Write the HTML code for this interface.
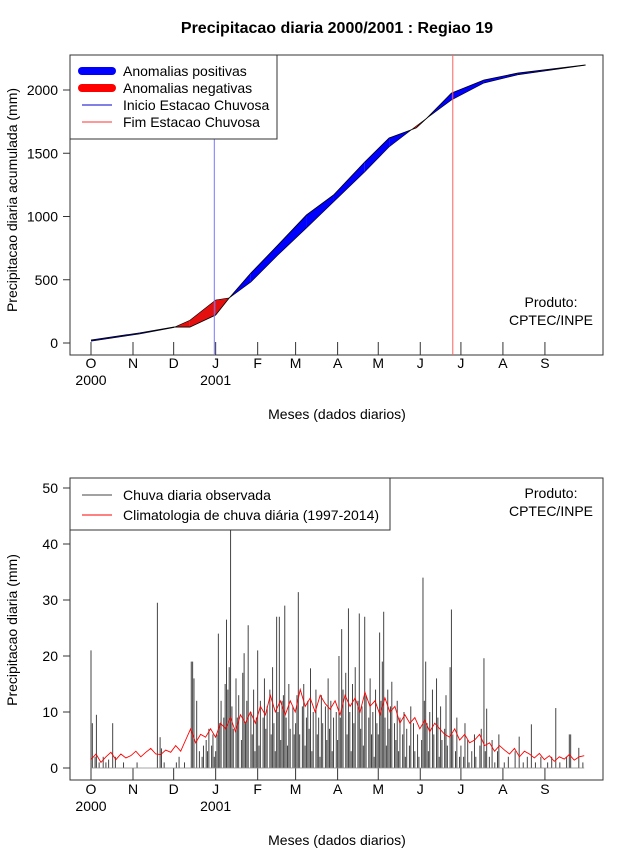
<!DOCTYPE html>
<html><head><meta charset="utf-8"><style>
body{margin:0;background:#fff}
svg{display:block;font-family:"Liberation Sans",sans-serif}
</style></head><body>
<svg id="c" width="640" height="850" viewBox="0 0 640 850">
<text x="337" y="33" text-anchor="middle" font-size="16" font-weight="bold">Precipitacao diaria 2000/2001 : Regiao 19</text>
<rect x="70" y="55" width="533" height="300" fill="none" stroke="#333"/>
<rect x="70" y="478" width="533" height="302" fill="none" stroke="#333"/>
<g id="topg"></g>
<g id="botg"></g>
<text transform="translate(17,200) rotate(-90)" text-anchor="middle" font-size="14">Precipitacao diaria acumulada (mm)</text>
<text transform="translate(17,630) rotate(-90)" text-anchor="middle" font-size="14">Precipitacao diaria (mm)</text>
<text x="337" y="419" text-anchor="middle" font-size="14">Meses (dados diarios)</text>
<text x="337" y="845" text-anchor="middle" font-size="14">Meses (dados diarios)</text>
<text x="551" y="307" text-anchor="middle" font-size="14">Produto:</text>
<text x="551" y="325" text-anchor="middle" font-size="14">CPTEC/INPE</text>
<text x="551" y="498" text-anchor="middle" font-size="14">Produto:</text>
<text x="551" y="516" text-anchor="middle" font-size="14">CPTEC/INPE</text>
</svg>
<script>
// ---- data ----
const monthLabels=["O","N","D","J","F","M","A","M","J","J","A","S"];
const monthStartDays=[0,31,61,92,123,151,182,212,243,273,304,335];
const yearLabels=[["2000",0],["2001",92]];
const topTicks=[0,500,1000,1500,2000];
const botTicks=[0,10,20,30,40,50];
const cumDays=[0,36,61,73,92,102,118,138,159,179,202,220,240,248,266,290,315,365];
const cumObs=[24,80,126,126,221,356,553,775,1012,1170,1431,1621,1700,1779,1976,2079,2134,2198];
const cumClim=[14,72,122,180,340,356,482,696,909,1115,1352,1550,1715,1779,1921,2055,2120,2196];
const startDay=91, endDay=267;
const rainOct=[21,8,0,2,9.5,0,1,0,0,2,0,1,0,1.5,0,0,8,0,2,0,0,0,0,0,1,0,0,0,0,0,0];
const rainNov=[0,0,0,1,0,0,0,0,0,0,0,0,0,0,0,0,0,0,29.5,0,5.5,3.5,0,1,0,0,0,0,0,0];
const rainDec=[0,0,1,0,2,0,0,0,1,0,0,0,0,19,19,16,0,12,0,3,0,2,4,0,5,3,7,0,4,6,2];
const rainJan=[3,6,24,8,12,0,9,15,26.5,14,18,43,11,7,0,16,9,13,0,5,17,20.5,8,12,25.5,0,10,6,14,3,9];
const rainFeb=[21,4,12,0,9,16,7,11,0,14,6,18,8,3,27,10,27,5,12,13,29,9,4,15,7,0,11,6];
const rainMar=[8,13,31.4,6,0,11,15,4,9,12,7,17.8,3,10,0,14,6,9,2,13,8,0,11,5,16,7,12,3,9,0,10];
const rainApr=[5,20,9,24.8,14,0,17,6,28.5,10,3,15,8,18,0,12,27.6,7,11,4,27,13,0,9,16,6,10,2,14,8];
const rainMay=[6,24.2,12,19,27.9,9,4,14,7,11,15.4,0,8,5,12,3,9,0,6,10,2,7,0,4,11,0,8,3,0,6,2];
const rainJun=[0,5,34,12,19,8,3,10,0,14,6,0,16,9,2,11,5,0,7,13,4,0,18,28.3,6,0,3,9,0,2];
const rainJul=[4,0,2,8,0,5,1,0,3,0,6,2,0,0,4,7,0,19.6,3,10.6,0,2,0,5,0,1,0,3,6,0,0];
const rainAug=[0,1,0,0,2,0,0,0,0,3,0,0,5.6,0,0,1,0,0,2,0,0,7.8,0,0,1,0,0,0,2,0,0];
const rainSep=[0,0,1,0,0,2,0,0,10.7,0,0,1,0,0,0,0,2,0,6,6,0,0,0,0,0,3.6,0,0,1,0];
const climDaily=[1.5,2.5,1,2,2.8,1.5,2.5,1.8, 2.2,3,2,2.8,3.5,2.5,2.4,3.2, 2.8,4,3,5,7,4.5,6,5.5,
 7,5.5,8,7,9,6.5,9.5,8, 10,8,11,9.5,13,10,12,9.5, 12,10,14,11,12.5,10,13,11.5,
 10.5,12,9.5,13,11,12.5,10,13.5, 11,12,9.5,12.5,10,11,8,9.5, 8,9,7,8.5,6.5,8,7,6,
 5.5,7,5,6,4.5,5,6,4, 4.5,3,4,3.2,2.5,3.5,2,3, 2.5,1.8,2.6,1.5,2.2,1.2,2,1.6,2.4,1.4,2,2.2];
// ---- scales ----
const NS="http://www.w3.org/2000/svg";
const xd=d=>91+d*1.355;
const yTop=v=>343-v*0.1265;
const yBot=v=>768-v*5.6;
function mk(p,tag,at){const e=document.createElementNS(NS,tag);for(const k in at)e.setAttribute(k,at[k]);p.appendChild(e);return e;}
const svg=document.getElementById('c');
const gTop=document.getElementById('topg'), gBot=document.getElementById('botg');
// fills
for(let i=0;i<cumDays.length-1;i++){
  const d0=cumDays[i],d1=cumDays[i+1],a0=cumObs[i]-cumClim[i],a1=cumObs[i+1]-cumClim[i+1];
  const segs=[];
  if(a0*a1<0){const t=a0/(a0-a1);const dm=d0+t*(d1-d0);const vm=cumObs[i]+t*(cumObs[i+1]-cumObs[i]);
    segs.push([[d0,cumObs[i],cumClim[i]],[dm,vm,vm],a0]);segs.push([[dm,vm,vm],[d1,cumObs[i+1],cumClim[i+1]],a1]);}
  else segs.push([[d0,cumObs[i],cumClim[i]],[d1,cumObs[i+1],cumClim[i+1]],a0+a1]);
  for(const s of segs){
    const p=mk(gTop,'polygon',{points:`${xd(s[0][0])},${yTop(s[0][1])} ${xd(s[1][0])},${yTop(s[1][1])} ${xd(s[1][0])},${yTop(s[1][2])} ${xd(s[0][0])},${yTop(s[0][2])}`,fill:s[2]>=0?'#0000ff':'#e41010',stroke:'none'});
    
    
  }
}
const lo=mk(gTop,'polyline',{points:cumDays.map((d,i)=>xd(d)+','+yTop(cumObs[i])).join(' '),fill:'none',stroke:'#000','stroke-width':0.8});


const lc=mk(gTop,'polyline',{points:cumDays.map((d,i)=>xd(d)+','+yTop(cumClim[i])).join(' '),fill:'none',stroke:'#000','stroke-width':0.6});


const vs=mk(gTop,'line',{x1:xd(startDay),x2:xd(startDay),y1:139,y2:355,stroke:'#7777ff','stroke-width':1});


const ve=mk(gTop,'line',{x1:xd(endDay),x2:xd(endDay),y1:55,y2:355,stroke:'#ff6060','stroke-width':1});


// axes
function axes(g,yf,ticks,tickY0,tickY1,labY){
  ticks.forEach(t=>{const l=mk(g,'line',{x1:63,x2:70,y1:yf(t),y2:yf(t),stroke:'#333'});
    
    
    const tx=mk(g,'text',{x:58,y:yf(t)+5,'text-anchor':'end','font-size':14});tx.textContent=t;
    
    });
  monthStartDays.forEach((d,i)=>{const l=mk(g,'line',{x1:xd(d),x2:xd(d),y1:tickY0,y2:tickY1,stroke:'#333'});
    
    
    const tx=mk(g,'text',{x:xd(d),y:labY,'text-anchor':'middle','font-size':14});tx.textContent=monthLabels[i];
    
    });
  yearLabels.forEach(y=>{const tx=mk(g,'text',{x:xd(y[1]),y:labY+17,'text-anchor':'middle','font-size':14});tx.textContent=y[0];
    
    });
}
axes(gTop,yTop,topTicks,342,355,368);
axes(gBot,yBot,botTicks,768,780,794);
// bars
const rain=[].concat(rainOct,rainNov,rainDec,rainJan,rainFeb,rainMar,rainApr,rainMay,rainJun,rainJul,rainAug,rainSep);
rain.forEach((v,d)=>{if(v<=0)return;const b=mk(gBot,'line',{x1:xd(d),x2:xd(d),y1:yBot(0),y2:yBot(v),stroke:'#444','stroke-width':1});
  
  });
const bl=mk(gBot,'line',{x1:xd(0),x2:xd(364),y1:yBot(0),y2:yBot(0),stroke:'#888','stroke-width':0.7});


const st=364/(climDaily.length-1);
const cl=mk(gBot,'polyline',{points:climDaily.map((v,i)=>xd(i*st)+','+yBot(v)).join(' '),fill:'none',stroke:'#ff0000','stroke-width':0.9});


// legends
function legend(x0,y0,w,h,items,name){
  const g=mk(svg,'g',{});
  
  
  mk(g,'rect',{x:x0,y:y0,width:w,height:h,fill:'#fff',stroke:'#333'});
  items.forEach(it=>{const l=mk(g,'line',{x1:x0+12,x2:x0+42,y1:it[3],y2:it[3],stroke:it[1],'stroke-width':it[2],'stroke-linecap':it[2]>3?'round':'butt'});
    
    
    const t=mk(g,'text',{x:x0+53,y:it[3]+5,'font-size':14});t.textContent=it[0];
    
    });
}
legend(70,55,207,84,[["Anomalias positivas","#0000ff",8,71],["Anomalias negativas","#ff0000",8,88],["Inicio Estacao Chuvosa","#0000cc",1,105],["Fim Estacao Chuvosa","#ff3030",1,122]],'top-legend');
legend(70,478,320,52,[["Chuva diaria observada","#444",1,495],["Climatologia de chuva diária (1997-2014)","#ff0000",1,515]],'bottom-legend');
</script>
</body></html>
